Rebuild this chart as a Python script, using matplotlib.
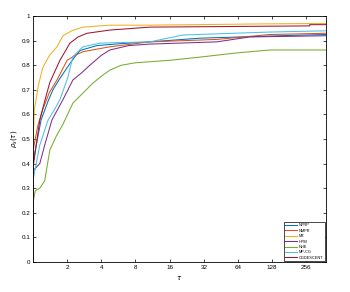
import matplotlib
matplotlib.use('Agg')
import matplotlib.pyplot as plt

plt.rcParams['font.family'] = ['Liberation Sans', 'DejaVu Sans']

# datos (perfil de desempeno)
nombres = ['NPRP', 'NMPR', 'MZ', 'HPM', 'NHE', 'MP-CG', 'CGDESCENT']
colores = ['#0072BD', '#D95319', '#EDB120', '#7E2F8E', '#77AC30', '#4DBEEE', '#A2142F']

tau_nprp = [1, 1, 1.05, 1.18, 1.35, 1.5, 1.75, 2.0, 2.3, 2.6, 3.66, 6, 10.7, 29.5, 149, 380]
rho_nprp = [0, 0.40, 0.455, 0.577, 0.65, 0.70, 0.75, 0.79, 0.83, 0.86, 0.88, 0.888, 0.895, 0.91, 0.92, 0.925]

tau_nmpr = [1, 1, 1.1, 1.22, 1.4, 1.63, 2.0, 2.35, 2.75, 4.76, 10.7, 41.6, 122, 380]
rho_nmpr = [0, 0.45, 0.55, 0.62, 0.69, 0.74, 0.82, 0.84, 0.855, 0.875, 0.895, 0.905, 0.925, 0.93]

tau_mz = [1, 1, 1.03, 1.12, 1.22, 1.4, 1.63, 1.84, 2.2, 2.75, 4.76, 10.7, 100, 380]
rho_mz = [0, 0.47, 0.62, 0.72, 0.79, 0.84, 0.875, 0.92, 0.94, 0.955, 0.963, 0.963, 0.968, 0.97]

tau_hpm = [1, 1, 1.15, 1.27, 1.47, 1.65, 1.84, 2.25, 2.7, 3.17, 4.0, 4.76, 7, 10.7, 41.6, 81, 380]
rho_hpm = [0, 0.37, 0.40, 0.475, 0.577, 0.62, 0.66, 0.74, 0.77, 0.80, 0.84, 0.862, 0.88, 0.886, 0.895, 0.915, 0.92]

tau_nhe = [1, 1, 1.05, 1.15, 1.27, 1.41, 1.6, 1.84, 2.25, 2.8, 3.37, 4.0, 4.76, 6, 8, 16, 29.5, 62, 122, 380]
rho_nhe = [0, 0.24, 0.29, 0.30, 0.33, 0.455, 0.51, 0.56, 0.646, 0.69, 0.727, 0.755, 0.78, 0.80, 0.81, 0.82, 0.833, 0.85, 0.862, 0.862]

tau_mpcg = [1, 1, 1.15, 1.36, 1.55, 1.73, 2.03, 2.25, 2.75, 3.9, 10.7, 21, 122, 380]
rho_mpcg = [0, 0.33, 0.475, 0.577, 0.62, 0.66, 0.75, 0.835, 0.875, 0.89, 0.895, 0.923, 0.935, 0.94]

tau_cgd = [1, 1, 1.15, 1.28, 1.41, 1.73, 2.12, 2.5, 2.99, 4.76, 10.7, 274, 274, 380]
rho_cgd = [0, 0.38, 0.577, 0.66, 0.73, 0.82, 0.89, 0.915, 0.93, 0.943, 0.955, 0.96, 0.965, 0.965]

taus = [tau_nprp, tau_nmpr, tau_mz, tau_hpm, tau_nhe, tau_mpcg, tau_cgd]
rhos = [rho_nprp, rho_nmpr, rho_mz, rho_hpm, rho_nhe, rho_mpcg, rho_cgd]

fig = plt.figure(figsize=(3.5, 2.92), dpi=100)
ax = fig.add_axes([0.094, 0.103, 0.837, 0.842])

for t, r, c, n in zip(taus, rhos, colores, nombres):
    ax.plot(t, r, color=c, lw=0.75, label=n)

ax.set_xscale('log', base=2)
ax.set_xlim(1, 380)
ax.set_ylim(0, 1)
ax.set_xticks([2, 4, 8, 16, 32, 64, 128, 256])
ax.set_xticklabels(['2', '4', '8', '16', '32', '64', '128', '256'])
ax.minorticks_off()
ax.set_yticks([i / 10 for i in range(11)])
ax.set_yticklabels(['0', '0.1', '0.2', '0.3', '0.4', '0.5', '0.6', '0.7', '0.8', '0.9', '1'])
ax.tick_params(direction='in', top=True, right=True, labelsize=4.5, length=2.5, width=0.5, pad=2)
for s in ax.spines.values():
    s.set_linewidth(0.6)

ax.set_xlabel(r'$\tau$', fontsize=5, labelpad=3)
ax.set_ylabel(r'$\rho_s(\tau)$', fontsize=5, labelpad=2)

leg = ax.legend(loc='lower right', fontsize=2.8, fancybox=False, edgecolor='black',
                framealpha=1, handlelength=3, borderaxespad=0.2, labelspacing=0.35,
                borderpad=0.4, handletextpad=0.5)
leg.get_frame().set_linewidth(0.5)

fig.savefig('out.png', dpi=100)
